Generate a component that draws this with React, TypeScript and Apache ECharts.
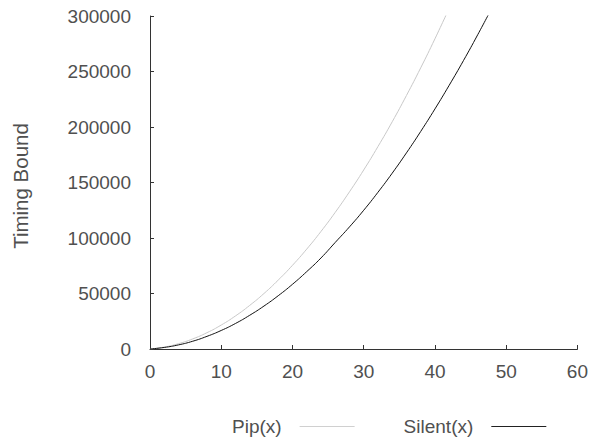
import React, { useEffect, useRef } from "react";
import * as echarts from "echarts";

const xValues = [0, 2, 4, 6, 8, 10, 12, 14, 16, 18, 20, 22, 24, 26, 28, 30, 32, 34, 36, 38, 40, 42, 44, 46, 48];
const pipValues = [0, 1700, 4800, 9100, 14700, 21600, 29800, 39300, 50000, 62100, 75400, 90000, 105900, 123100, 141600, 161300, 182400, 204700, 228400, 253300, 279500, 307000, null, null, null];
const silentValues = [0, 1400, 3700, 7000, 11400, 16700, 23000, 30400, 38700, 48000, 58300, 69700, 82000, 96000, 110000, 125000, 141200, 158400, 176700, 196000, 216300, 237600, 259800, 283100, 307300];
const yTicks = [0, 50000, 100000, 150000, 200000, 250000, 300000];
const xTicks = [0, 10, 20, 30, 40, 50, 60];

const FONT = "Liberation Sans, Arial, sans-serif";
const TXT = "#505050";

export default function App() {
  const ref = useRef<HTMLDivElement>(null);
  useEffect(() => {
    if (!ref.current) return;
    const chart = echarts.init(ref.current, undefined, { renderer: "svg" });
    const pipData = xValues.map((x, i) => [x, pipValues[i]]).filter((d) => d[1] !== null);
    const silentData = xValues.map((x, i) => [x, silentValues[i]]);
    chart.setOption({
      animation: false,
      backgroundColor: "#ffffff",
      grid: { left: 150, right: 11, top: 16, bottom: 93, containLabel: false },
      xAxis: {
        type: "value",
        min: xTicks[0],
        max: xTicks[xTicks.length - 1],
        interval: 10,
        axisLine: { show: true, lineStyle: { color: "#333", width: 1 } },
        axisTick: { show: true, inside: true, length: 4, lineStyle: { color: "#333" } },
        axisLabel: { color: TXT, fontFamily: FONT, fontSize: 19, margin: 13 },
        splitLine: { show: false },
      },
      yAxis: {
        type: "value",
        min: yTicks[0],
        max: yTicks[yTicks.length - 1],
        interval: 50000,
        axisLine: { show: true, lineStyle: { color: "#333", width: 1 } },
        axisTick: { show: true, inside: true, length: 4, lineStyle: { color: "#333" } },
        axisLabel: { color: TXT, fontFamily: FONT, fontSize: 19, margin: 19, formatter: (v: number) => String(v) },
        splitLine: { show: false },
      },
      legend: {
        bottom: 1,
        left: 227,
        align: "right",
        itemWidth: 55,
        itemHeight: 1,
        itemGap: 49,
        textStyle: { color: TXT, fontFamily: FONT, fontSize: 19, padding: [0, 13, 0, 0] },
        data: [
          { name: "Pip(x)", icon: "rect", itemStyle: { color: "#d0d0d0" } },
          { name: "Silent(x)", icon: "rect", itemStyle: { color: "#222" } },
        ],
      },
      graphic: [
        {
          type: "text",
          x: 20,
          y: 186,
          rotation: Math.PI / 2,
          style: {
            text: "Timing Bound",
            fill: TXT,
            font: "20.5px " + FONT,
            align: "center",
            verticalAlign: "middle",
          },
        },
      ],
      series: [
        {
          name: "Pip(x)",
          type: "line",
          data: pipData,
          symbol: "none",
          smooth: true,
          clip: true,
          lineStyle: { color: "#c8c8c8", width: 1 },
          itemStyle: { color: "#c8c8c8" },
        },
        {
          name: "Silent(x)",
          type: "line",
          data: silentData,
          symbol: "none",
          smooth: true,
          clip: true,
          lineStyle: { color: "#111", width: 1 },
          itemStyle: { color: "#111" },
        },
      ],
    });
    return () => chart.dispose();
  }, []);
  return <div ref={ref} style={{ width: 591, height: 442, position: "absolute", left: 0, top: 0 }} />;
}
